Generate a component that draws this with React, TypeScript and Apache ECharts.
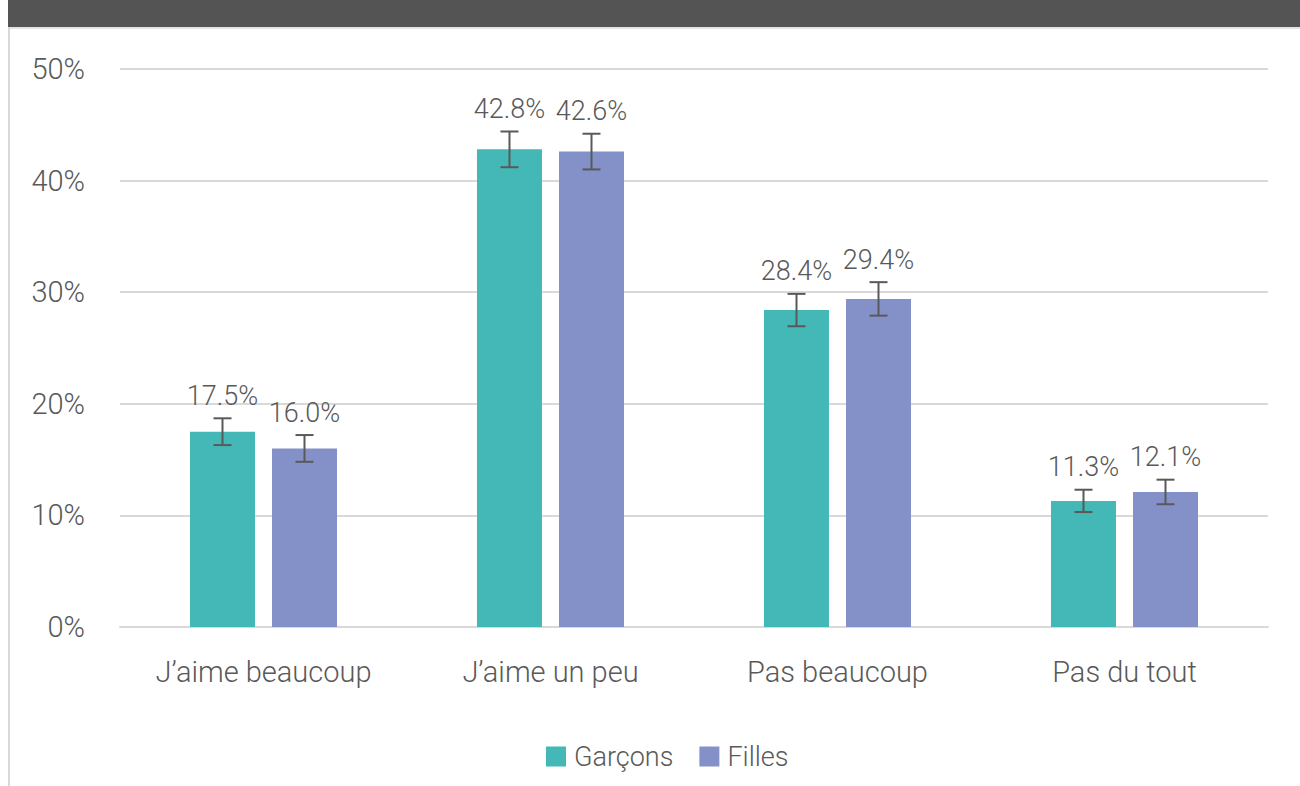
import React, { useEffect, useRef } from "react";
import * as echarts from "echarts";

const categories = ["J’aime beaucoup", "J’aime un peu", "Pas beaucoup", "Pas du tout"];
const seriesNames = ["Garçons", "Filles"];
const garcons = [17.5, 42.8, 28.4, 11.3];
const filles = [16.0, 42.6, 29.4, 12.1];
const garconsErr = [1.2, 1.6, 1.45, 1.0];
const fillesErr = [1.2, 1.6, 1.5, 1.1];
const colors = ["#43b8b6", "#8491c8"];

const FONT = "Roboto, 'Open Sans', sans-serif";
const TEXT = "#595959";
const BAR_W = 65;
const BAR_GAP = 17;

function errorSeries(values: number[], errs: number[], sign: number) {
  return {
    type: "custom",
    silent: true,
    z: 5,
    data: values.map((v, i) => [i, v, errs[i]]),
    renderItem: (params: any, api: any) => {
      const idx = api.value(0);
      const v = api.value(1);
      const e = api.value(2);
      const off = sign * (BAR_W + BAR_GAP) / 2;
      const top = api.coord([idx, v + e]);
      const bot = api.coord([idx, v - e]);
      const x = top[0] + off;
      const cap = 9;
      const ls = { stroke: "#595959", lineWidth: 2 };
      return {
        type: "group",
        children: [
          { type: "line", shape: { x1: x, y1: top[1], x2: x, y2: bot[1] }, style: ls },
          { type: "line", shape: { x1: x - cap, y1: top[1], x2: x + cap, y2: top[1] }, style: ls },
          { type: "line", shape: { x1: x - cap, y1: bot[1], x2: x + cap, y2: bot[1] }, style: ls },
          {
            type: "text",
            x: x,
            y: top[1] - 9,
            style: {
              text: v.toFixed(1) + "%",
              fill: TEXT,
              font: `300 27px ${FONT}`,
              align: "center",
              verticalAlign: "bottom",
            },
          },
        ],
      };
    },
  };
}

export default function App() {
  const ref = useRef<HTMLDivElement>(null);
  useEffect(() => {
    if (!ref.current) return;
    const chart = echarts.init(ref.current, undefined, { renderer: "svg" });
    chart.setOption({
      animation: false,
      backgroundColor: "#ffffff",
      graphic: [
        { type: "rect", left: 8, top: 0, shape: { width: 1292, height: 27 }, style: { fill: "#545454" }, z: 10 },
        { type: "rect", left: 8, top: 27, shape: { width: 1292, height: 2 }, style: { fill: "#e4e4e4" }, z: 10 },
        { type: "rect", left: 8, top: 27, shape: { width: 2, height: 759 }, style: { fill: "#d9d9d9" }, z: 10 },
      ],
      grid: { left: 120, right: 32, top: 69, bottom: 159 },
      legend: {
        data: seriesNames,
        left: 541,
        top: 738,
        itemWidth: 20,
        itemHeight: 20,
        itemGap: 26,
        icon: "rect",
        textStyle: { color: TEXT, fontSize: 27, fontWeight: 300, fontFamily: FONT, padding: [0, 0, 0, 3] },
      },
      xAxis: {
        type: "category",
        data: categories,
        axisLine: { lineStyle: { color: "#d9d9d9", width: 2 } },
        axisTick: { show: false },
        axisLabel: { color: TEXT, fontSize: 29, fontWeight: 300, fontFamily: FONT, margin: 30, interval: 0 },
      },
      yAxis: {
        type: "value",
        min: 0,
        max: 50,
        interval: 10,
        axisLabel: { formatter: "{value}%", color: TEXT, fontSize: 29, fontWeight: 300, fontFamily: FONT, margin: 35 },
        splitLine: { lineStyle: { color: "#d9d9d9", width: 2 } },
        axisLine: { show: false },
        axisTick: { show: false },
      },
      series: [
        {
          name: seriesNames[0],
          type: "bar",
          data: garcons,
          barWidth: BAR_W,
          barGap: (BAR_GAP / BAR_W * 100).toFixed(1) + "%",
          itemStyle: { color: colors[0] },
        },
        {
          name: seriesNames[1],
          type: "bar",
          data: filles,
          barWidth: BAR_W,
          itemStyle: { color: colors[1] },
        },
        errorSeries(garcons, garconsErr, -1),
        errorSeries(filles, fillesErr, 1),
      ],
    });
    return () => chart.dispose();
  }, []);
  return (
    <div
      ref={ref}
      style={{ position: "fixed", left: 0, top: 0, width: 1300, height: 786 }}
    />
  );
}
